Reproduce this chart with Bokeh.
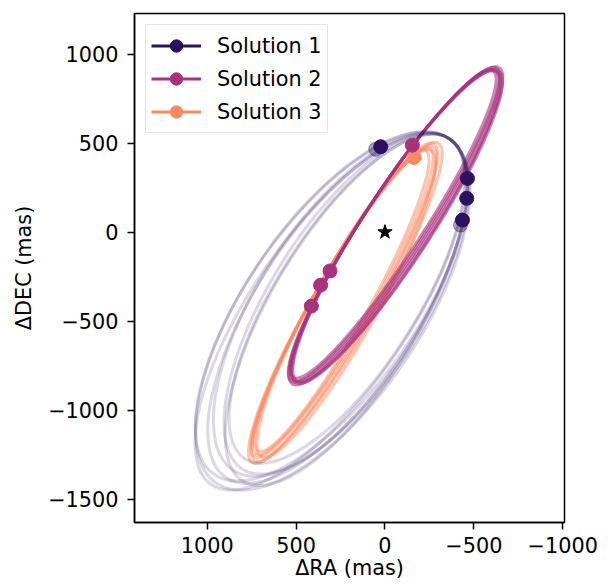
from bokeh.plotting import figure
from bokeh.models import Range1d, Legend, LegendItem, CustomJSTickFormatter
from bokeh.embed import file_html
from bokeh.resources import INLINE

# ---- orbit families (ellipse centre RA/DEC in mas, full axes in mas, tilt in deg) ----
s1_x = [266.0, 308.2, 220.5, 293.6, 213.7, 300.9, 218.8, 245.8]
s1_y = [-427.4, -446.5, -403.2, -442.6, -374.0, -417.3, -437.0, -407.2]
s1_w = [2283, 2362, 2193, 2340, 2137, 2306, 2250, 2227]
s1_h = [900, 877, 855, 990, 787, 945, 832, 922]
s1_a = [56.7, 55.5, 58.0, 56.0, 57.5, 55.0, 59.0, 57.0]

s2_x = [-46.6, -51.3, -56.0, -60.7, -65.4, -67.8]
s2_y = [44.7, 41.6, 38.6, 35.5, 32.4, 30.9]
s2_w = [2058, 2103, 2081, 2126, 2070, 2092]
s2_h = [332, 343, 354, 366, 377, 382]
s2_a = [56.9, 56.7, 57.0, 56.8, 57.1, 56.9]

s3_x = [242.4, 237.5, 232.6, 227.7, 222.8, 217.9]
s3_y = [-386.4, -389.2, -392.0, -394.7, -397.5, -400.3]
s3_w = [1935, 1980, 2013, 2047, 2081, 1968]
s3_h = [304, 315, 326, 337, 349, 360]
s3_a = [60.8, 60.4, 60.0, 60.6, 59.8, 61.0]

# ---- epoch positions ----
p1_ra = [24, -464, -460, -436]
p1_dec = [480, 302, 190, 68]
p1b_ra = [52, -425]
p1b_dec = [466, 40]
p2_ra = [-154, 309, 362, 414]
p2_dec = [489, -218, -298, -416]
p3_ra = [-163]
p3_dec = [420]
star_ra = [0]
star_dec = [0]

labels = ["Solution 1", "Solution 2", "Solution 3"]
colors = ["#2c115f", "#a8327d", "#fc8961"]

FONT = "DejaVu Sans"
FS = "20.8px"
NAN = float("nan")

p = figure(width=611, height=587,
           x_range=Range1d(1409, -1010), y_range=Range1d(-1632, 1229),
           output_backend="svg", toolbar_location=None,
           min_border_left=134, min_border_right=47,
           min_border_top=13, min_border_bottom=65,
           background_fill_color="white", border_fill_color="white")
p.grid.visible = False
p.outline_line_color = "black"
p.outline_line_width = 1.5

fmt = CustomJSTickFormatter(code="return tick < 0 ? '\u2212' + Math.abs(tick) : String(tick);")
for ax in (p.xaxis[0], p.yaxis[0]):
    ax.formatter = fmt
    ax.major_tick_out = 7
    ax.major_tick_in = 0
    ax.minor_tick_out = 0
    ax.minor_tick_in = 0
    ax.major_tick_line_width = 1.5
    ax.axis_line_width = 1.5
    ax.major_label_text_font = FONT
    ax.major_label_text_font_size = FS
    ax.major_label_text_color = "black"
    ax.axis_label_text_font = FONT
    ax.axis_label_text_font_size = FS
    ax.axis_label_text_font_style = "normal"
    ax.axis_label_text_color = "black"

p.xaxis.ticker = [1000, 500, 0, -500, -1000]
p.yaxis.ticker = [1000, 500, 0, -500, -1000, -1500]
p.xaxis.axis_label = "\u0394RA (mas)"
p.yaxis.axis_label = "\u0394DEC (mas)"
p.xaxis.major_label_standoff = 7
p.xaxis.axis_label_standoff = 0
p.yaxis.major_label_standoff = 9
p.yaxis.axis_label_standoff = 9

# orbits
p.ellipse(x=s3_x, y=s3_y, width=s3_w, height=s3_h, angle=s3_a, angle_units="deg",
          fill_color=None, line_color=colors[2], line_alpha=0.5, line_width=3)
p.ellipse(x=s2_x, y=s2_y, width=s2_w, height=s2_h, angle=s2_a, angle_units="deg",
          fill_color=None, line_color=colors[1], line_alpha=0.6, line_width=3)
p.ellipse(x=s1_x, y=s1_y, width=s1_w, height=s1_h, angle=s1_a, angle_units="deg",
          fill_color=None, line_color=colors[0], line_alpha=0.17, line_width=3)

# epochs
p.scatter(x=p3_ra, y=p3_dec, size=14, color=colors[2])
p.scatter(x=p1b_ra, y=p1b_dec, size=14, color=colors[0], alpha=0.4)
p.scatter(x=p1_ra, y=p1_dec, size=14, color=colors[0])
p.scatter(x=p2_ra, y=p2_dec, size=14, color=colors[1])
p.scatter(x=star_ra, y=star_dec, marker="star", size=15, color="black")

# legend proxies
items = []
for lab, c in zip(labels, colors):
    lr = p.line(x=[NAN], y=[NAN], line_color=c, line_width=3)
    mr = p.scatter(x=[NAN], y=[NAN], size=14, color=c)
    items.append(LegendItem(label=lab, renderers=[lr, mr]))
leg = Legend(items=items, location="top_left",
             label_text_font=FONT, label_text_font_size=FS, label_text_color="black",
             glyph_width=50, glyph_height=31, label_height=31,
             label_standoff=16, spacing=2, padding=5, margin=11,
             border_line_color="#cccccc", border_line_width=1.5,
             background_fill_alpha=0.8)
p.add_layout(leg)

open("out.html", "w").write(file_html(p, INLINE))
